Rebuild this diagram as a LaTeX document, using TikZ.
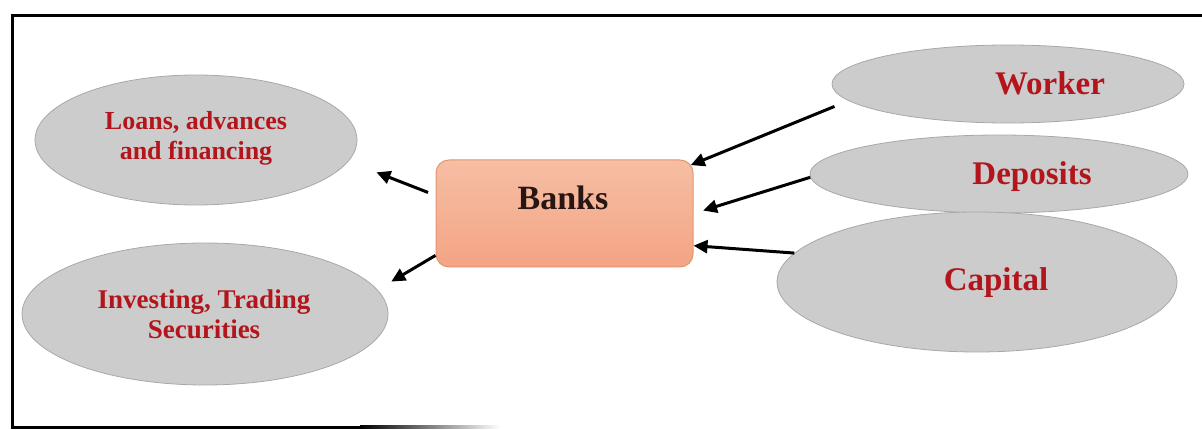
\documentclass[tikz,border=0pt]{standalone}
\usepackage{fontspec}
\setmainfont{Liberation Serif}
\usetikzlibrary{shapes.geometric,arrows.meta}
\definecolor{txtred}{RGB}{178,22,28}
\definecolor{ellfill}{RGB}{204,204,204}
\definecolor{elledge}{RGB}{168,168,168}
\definecolor{banktop}{RGB}{246,190,164}
\definecolor{bankbot}{RGB}{243,164,132}
\definecolor{bankedge}{RGB}{226,150,110}
\definecolor{banktxt}{RGB}{40,22,20}
\tikzset{
  oval/.style={ellipse, fill=ellfill, draw=elledge, line width=0.8pt, inner sep=0pt},
  ovaltext/.style={font=\bfseries, text=txtred, align=center},
  flow/.style={line width=3pt, -{Triangle[length=14pt,width=13pt]}},
}
\begin{document}
\begin{tikzpicture}[x=1pt,y=-1pt]
\useasboundingbox (0,0) rectangle (1202,430);
% frame
\draw[line width=3pt] (12,427) -- (12,16) -- (1210,16);
\draw[line width=3pt] (11,427) -- (360,427);
\shade[left color=black, right color=white] (360,425.5) rectangle (500,428.5);
% ellipses
\node[oval, minimum width=322pt, minimum height=130pt] (loans) at (196,140) {};
\node[oval, minimum width=366pt, minimum height=142pt] (invest) at (205,314) {};
\node[oval, minimum width=352pt, minimum height=78pt] (worker) at (1008,84) {};
\node[oval, minimum width=378pt, minimum height=78pt] (deposits) at (999,174) {};
\node[oval, minimum width=400pt, minimum height=140pt] (capital) at (977,282) {};
% texts
\node[ovaltext, font=\fontsize{26}{30}\selectfont\bfseries] (loanst) at (196,138) {Loans, advances\\and financing};
\node[ovaltext, font=\fontsize{27}{30}\selectfont\bfseries] (investt) at (204,314) {Investing, Trading\\Securities};
\node[ovaltext, font=\fontsize{33}{36}\selectfont\bfseries] (workert) at (1050,83) {Worker};
\node[ovaltext, font=\fontsize{33}{36}\selectfont\bfseries] (depositst) at (1032,177) {Deposits};
\node[ovaltext, font=\fontsize{33}{36}\selectfont\bfseries] (capitalt) at (996,283) {Capital};
% banks
\node[draw=bankedge, line width=1pt, rounded corners=13pt, top color=banktop, bottom color=bankbot,
      minimum width=257pt, minimum height=107pt, inner sep=0pt] (banks) at (564.5,213.5) {};
\node[font=\fontsize{34}{36}\selectfont\bfseries, text=banktxt] (bankst) at (563,198) {Banks};
% arrows
\draw[flow, shorten <=8pt, shorten >=30pt] (banks.172.3) -- (loans.-8.9);
\draw[flow, shorten >=16pt] (banks.198.8) -- (invest.8.2);
\draw[flow, shorten <=15pt, shorten >=-3pt] (worker.186.7) -- (banks.21);
\draw[flow, shorten >=10pt] (deposits.181.8) -- (banks.0.6);
\draw[flow] (capital.171.7) -- (banks.-14.2);
\end{tikzpicture}
\end{document}
